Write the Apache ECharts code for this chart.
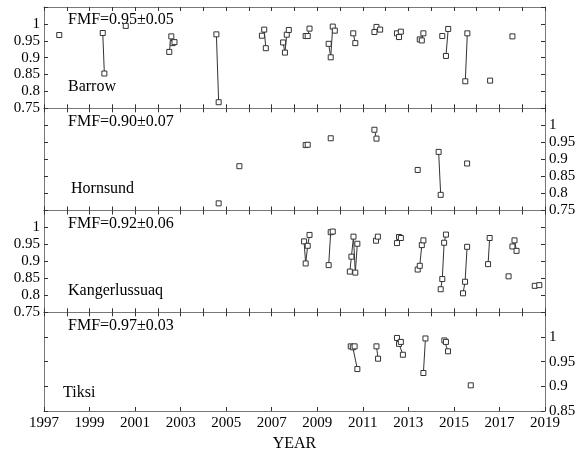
<!DOCTYPE html>
<html>
<head>
<meta charset="utf-8">
<script src="https://cdn.jsdelivr.net/npm/echarts@6/dist/echarts.min.js"></script>
<style>
  html, body { margin: 0; padding: 0; background: #fff; }
  #chart { width: 585px; height: 453px; }
</style>
</head>
<body>
<div id="chart"></div>
<script>
// Fine-mode fraction (FMF) measurements per station; each inner array is one
// measurement campaign, drawn as a connected run of points.
const stations = ['Barrow', 'Hornsund', 'Kangerlussuaq', 'Tiksi'];
const fmfSummary = ['FMF=0.95±0.05', 'FMF=0.90±0.07', 'FMF=0.92±0.06', 'FMF=0.97±0.03'];

const barrowYear = [
  [1997.67], [1999.58, 1999.65], [2000.59],
  [2002.50, 2002.59, 2002.65, 2002.73], [2004.57, 2004.67],
  [2006.57, 2006.67, 2006.74], [2007.50, 2007.58, 2007.66, 2007.75],
  [2008.49, 2008.58, 2008.66], [2009.50, 2009.59, 2009.68, 2009.77],
  [2010.58, 2010.67], [2011.51, 2011.60, 2011.76], [2012.50, 2012.59, 2012.67],
  [2013.50, 2013.59, 2013.66], [2014.49], [2014.65, 2014.75],
  [2015.50, 2015.59], [2016.59], [2017.57]
];
const barrowFmf = [
  [0.967], [0.973, 0.853], [0.994],
  [0.917, 0.963, 0.943, 0.946], [0.969, 0.768],
  [0.965, 0.983, 0.928], [0.945, 0.915, 0.968, 0.982],
  [0.964, 0.964, 0.986], [0.941, 0.901, 0.992, 0.980],
  [0.972, 0.943], [0.976, 0.991, 0.983], [0.972, 0.961, 0.977],
  [0.954, 0.951, 0.972], [0.964], [0.905, 0.985],
  [0.830, 0.972], [0.832], [0.963]
];

const hornsundYear = [
  [2004.67], [2005.58], [2008.49, 2008.58], [2009.59],
  [2011.51, 2011.60], [2013.41], [2014.33, 2014.42], [2015.58]
];
const hornsundFmf = [
  [0.771], [0.880], [0.942, 0.943], [0.962],
  [0.987, 0.961], [0.869], [0.922, 0.796], [0.888]
];

const kangerYear = [
  [2008.42, 2008.49, 2008.58, 2008.66], [2009.50, 2009.59, 2009.68],
  [2010.43, 2010.50, 2010.59, 2010.67, 2010.76], [2011.58, 2011.66],
  [2012.50, 2012.59, 2012.67], [2013.41, 2013.50, 2013.59, 2013.66],
  [2014.42, 2014.49, 2014.57, 2014.65], [2015.40, 2015.49, 2015.58],
  [2016.50, 2016.57], [2017.40], [2017.57, 2017.66, 2017.75],
  [2018.55], [2018.75]
];
const kangerFmf = [
  [0.959, 0.894, 0.946, 0.978], [0.889, 0.986, 0.988],
  [0.870, 0.914, 0.973, 0.867, 0.952], [0.961, 0.973],
  [0.954, 0.972, 0.969], [0.876, 0.887, 0.948, 0.962],
  [0.818, 0.848, 0.955, 0.979], [0.806, 0.840, 0.943],
  [0.892, 0.969], [0.856], [0.944, 0.962, 0.931],
  [0.828], [0.830]
];

const tiksiYear = [
  [2010.47, 2010.56, 2010.64, 2010.76], [2011.60, 2011.67],
  [2012.50, 2012.59, 2012.67, 2012.76], [2013.66, 2013.75],
  [2014.58, 2014.65, 2014.74], [2015.74]
];
const tiksiFmf = [
  [0.981, 0.979, 0.981, 0.935], [0.981, 0.956],
  [0.998, 0.986, 0.990, 0.964], [0.927, 0.997],
  [0.993, 0.990, 0.971], [0.902]
];

const yearMin = 1997, yearMax = 2019;
const yMin = [0.75, 0.75, 0.75, 0.85];
const yMax = 1.05;
const yTickStep = 0.05;

const allYears = [barrowYear, hornsundYear, kangerYear, tiksiYear];
const allFmf = [barrowFmf, hornsundFmf, kangerFmf, tiksiFmf];

// Layout
const FONT = '"Liberation Serif", "Times New Roman", serif';
const AXIS_COLOR = '#777';
const panelTop = [7, 108.3, 210.5, 312.3];
const panelHeight = [101.3, 102.2, 101.8, 100.9];
const labelSide = ['left', 'right', 'left', 'right'];

const grids = [], xAxes = [], yAxes = [], series = [], texts = [];

const fmtY = v => (v > 1.001 ? '' : String(Math.round(v * 100) / 100));

for (let i = 0; i < 4; i++) {
  grids.push({ left: 44, right: 40, top: panelTop[i], height: panelHeight[i], containLabel: false });
  const isLast = i === 3;
  // bottom axis
  xAxes.push({
    type: 'value', gridIndex: i, position: 'bottom',
    min: yearMin, max: yearMax, interval: isLast ? 2 : 1,
    axisLine: { show: true, onZero: false, lineStyle: { color: AXIS_COLOR, width: 1 } },
    axisTick: { show: true, inside: true, length: 4, lineStyle: { color: '#333' } },
    axisLabel: {
      show: isLast, margin: 5, color: '#000', fontFamily: FONT, fontSize: 15,
      formatter: v => String(Math.round(v))
    },
    splitLine: { show: false },
    name: isLast ? 'YEAR' : '', nameLocation: 'middle', nameGap: 25,
    nameTextStyle: { color: '#000', fontFamily: FONT, fontSize: 16 }
  });
  // top axis (ticks only)
  xAxes.push({
    type: 'value', gridIndex: i, position: 'top',
    min: yearMin, max: yearMax, interval: 1,
    axisLine: { show: true, onZero: false, lineStyle: { color: AXIS_COLOR, width: 1 } },
    axisTick: { show: true, inside: true, length: 4, lineStyle: { color: '#333' } },
    axisLabel: { show: false }, splitLine: { show: false }
  });
  ['left', 'right'].forEach(side => {
    yAxes.push({
      type: 'value', gridIndex: i, position: side,
      min: yMin[i], max: yMax, interval: yTickStep,
      axisLine: { show: true, onZero: false, lineStyle: { color: AXIS_COLOR, width: 1 } },
      axisTick: { show: true, inside: true, length: 4, lineStyle: { color: '#333' } },
      axisLabel: {
        show: side === labelSide[i], margin: 4, color: '#000',
        fontFamily: FONT, fontSize: 15, formatter: fmtY
      },
      splitLine: { show: false }
    });
  });

  const xIdx = i * 2, yIdx = i * 2;
  allYears[i].forEach((grp, g) => {
    series.push({
      type: 'line', xAxisIndex: xIdx, yAxisIndex: yIdx,
      data: grp.map((yr, k) => [yr, allFmf[i][g][k]]),
      symbol: 'rect', symbolSize: 5, showSymbol: true,
      itemStyle: { color: '#fff', borderColor: '#333', borderWidth: 1 },
      lineStyle: { color: '#333', width: 1 },
      silent: true, animation: false
    });
  });

  texts.push({
    type: 'text', left: 68, top: panelTop[i] + 5,
    style: { text: fmfSummary[i], font: '16px ' + FONT, fill: '#000' }
  });
}

// station names
const namePos = [[68, 79], [71, 181], [68, 283], [63, 385]];
stations.forEach((s, i) => {
  texts.push({
    type: 'text', left: namePos[i][0], top: namePos[i][1],
    style: { text: s, font: '16px ' + FONT, fill: '#000' }
  });
});

const chart = echarts.init(document.getElementById('chart'), null, { renderer: 'canvas' });
chart.setOption({
  animation: false,
  backgroundColor: '#fff',
  grid: grids,
  xAxis: xAxes,
  yAxis: yAxes,
  series: series,
  graphic: texts
});
</script>
</body>
</html>
